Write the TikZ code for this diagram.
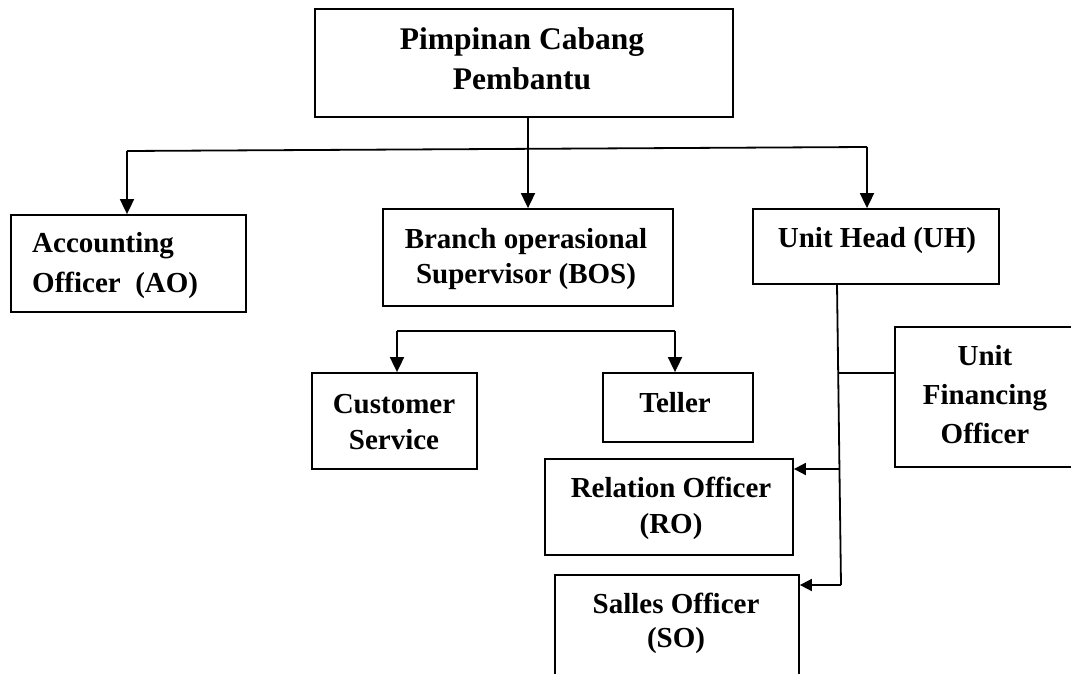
\documentclass[tikz,border=0pt]{standalone}
\usepackage{fontspec}
\setmainfont{Liberation Serif}
\usetikzlibrary{arrows.meta}
\begin{document}
\begin{tikzpicture}[x=1pt,y=-1pt,
  box/.style={draw, line width=1.8pt, rectangle, inner sep=0pt},
  lbl/.style={font=\fontsize{29}{36}\selectfont\bfseries, inner sep=0pt, align=center, anchor=base},
  conn/.style={line width=1.8pt},
  arr/.style={line width=1.8pt, -{Triangle[length=15pt,width=14pt]}},
  sarr/.style={line width=1.8pt, -{Triangle[length=12pt,width=12pt]}}]
\useasboundingbox (0,0) rectangle (1071,674);
% boxes
\node[box, minimum width=418pt, minimum height=108pt] (top) at (524,63) {};
\node[box, minimum width=235pt, minimum height=97pt] (ao) at (128.5,263.5) {};
\node[box, minimum width=290pt, minimum height=97pt] (bos) at (528,257.5) {};
\node[box, minimum width=246pt, minimum height=75pt] (uh) at (876,246.5) {};
\node[box, minimum width=165pt, minimum height=96pt] (cs) at (394.5,421) {};
\node[box, minimum width=150pt, minimum height=69pt] (tel) at (678,407.5) {};
\node[box, minimum width=180pt, minimum height=140pt] (ufo) at (985,397) {};
\node[box, minimum width=248pt, minimum height=96pt] (ro) at (669,507) {};
\node[box, minimum width=244pt, minimum height=130pt] (so) at (677,640) {};
% texts (base anchor = baseline of the last line)
\node[lbl, font=\fontsize{31.5}{40}\selectfont\bfseries] (topT) at (522,90) {Pimpinan Cabang\\Pembantu};
\node[lbl, align=left, anchor=base west, font=\fontsize{29}{40}\selectfont\bfseries] (aoT) at (32,292) {Accounting\\Officer\ \ (AO)};
\node[lbl, font=\fontsize{29}{35}\selectfont\bfseries] (bosT) at (526,283) {Branch operasional\\Supervisor (BOS)};
\node[lbl] (uhT) at (877,247) {Unit Head (UH)};
\node[lbl] (csT) at (394,449) {Customer\\Service};
\node[lbl] (telT) at (675,412) {Teller};
\node[lbl, font=\fontsize{29}{39}\selectfont\bfseries] (ufoT) at (985,443) {Unit\\Financing\\Officer};
\node[lbl] (roT) at (671,533) {Relation Officer\\(RO)};
\node[lbl, font=\fontsize{29}{34}\selectfont\bfseries] (soT) at (676,647) {Salles Officer\\(SO)};
% junction coordinates
\coordinate (hL) at (127,151);
\coordinate (hR) at (867,147);
\coordinate (bL) at (397,331);
\coordinate (bR) at (675,331);
\coordinate (vTop) at (837,284);
\coordinate (vUfo) at (838.2,373);
\coordinate (vRo) at (839.5,469);
\coordinate (vBot) at (841,585);
% connectors
\draw[arr] (top.south -| bos.north) -- (bos.north);
\draw[conn] (hL) -- (hR);
\draw[arr] (hL) -- (hL |- ao.north);
\draw[arr] (hR) -- (hR |- uh.north);
\draw[conn] (bL) -- (bR);
\draw[arr] (bL) -- (bL |- cs.north);
\draw[arr] (bR) -- (bR |- tel.north);
\draw[conn] (vTop) -- (vBot);
\draw[conn] (vUfo) -- (vUfo -| ufo.west);
\draw[sarr] (vRo) -- (vRo -| ro.east);
\draw[sarr] (vBot) -- (vBot -| so.east);
\end{tikzpicture}
\end{document}
